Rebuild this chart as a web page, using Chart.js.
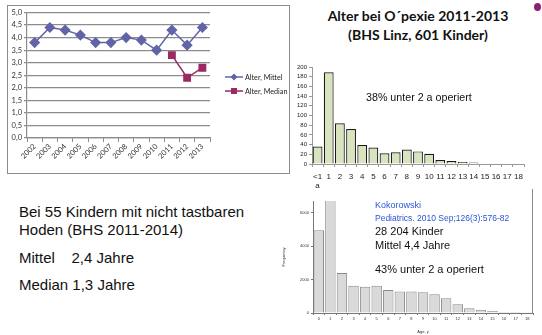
<!DOCTYPE html>
<html>
<head>
<meta charset="utf-8">
<script src="https://cdn.jsdelivr.net/npm/chart.js@4.4.1/dist/chart.umd.min.js"></script>
<style>
  body { margin: 0; width: 542px; height: 335px; background: #fff; position: relative; overflow: hidden; font-family: "Liberation Sans", Arial, sans-serif; }
  canvas { position: absolute; }
  .txt { position: absolute; white-space: nowrap; }
  #box1 { position: absolute; left: 7px; top: 5px; width: 281px; height: 167px; border: 1.5px solid #8c8c8c; }
</style>
</head>
<body>
<div id="box1"></div>
<canvas id="lineChart" width="280" height="166" style="left:9px;top:6px"></canvas>

<div class="txt" style="left:300px;top:6px;width:236px;text-align:center;font:bold 14px Lato, sans-serif;line-height:19px;color:#111">Alter bei O´pexie 2011-2013<br>(BHS Linz, 601 Kinder)</div>
<canvas id="bhsChart" width="235" height="135" style="left:295px;top:60px"></canvas>
<div class="txt" style="left:366px;top:91px;font-size:10.7px;color:#111">38% unter 2 a operiert</div>

<div class="txt" style="left:19px;top:203px;font-size:15px;line-height:18px;color:#111">Bei 55 Kindern mit nicht tastbaren<br>Hoden (BHS 2011-2014)</div>
<div class="txt" style="left:19px;top:249px;font-size:15px;color:#111">Mittel&nbsp;&nbsp;&nbsp; 2,4 Jahre</div>
<div class="txt" style="left:19px;top:276px;font-size:15px;color:#111">Median 1,3 Jahre</div>

<canvas id="koChart" width="258" height="145" style="left:280px;top:190px"></canvas>
<div style="position:absolute;left:532px;top:189px;width:1px;height:125px;background:#888"></div>
<div class="txt" style="left:375px;top:200px;font-size:9px;color:#2b55d6">Kokorowski</div>
<div class="txt" style="left:375px;top:213px;font-size:8.5px;color:#2b55d6">Pediatrics. 2010 Sep;126(3):576-82</div>
<div class="txt" style="left:375px;top:225px;font-size:11px;color:#111">28 204 Kinder</div>
<div class="txt" style="left:375px;top:239px;font-size:11px;color:#111">Mittel 4,4 Jahre</div>
<div class="txt" style="left:375px;top:263px;font-size:11px;color:#111">43% unter 2 a operiert</div>

<div style="position:absolute;left:534px;top:3px;width:7px;height:8px;border-radius:50%;background:#8e1f6e"></div>

<script>
// Linien: Alter bei Orchidopexie pro Jahr
const years = ["2002", "2003", "2004", "2005", "2006", "2007", "2008", "2009", "2010", "2011", "2012", "2013"];
const alterMittel = [3.8, 4.4, 4.3, 4.1, 3.8, 3.8, 4.0, 3.9, 3.5, 4.3, 3.7, 4.4];
const alterMedian = [null, null, null, null, null, null, null, null, null, 3.3, 2.4, 2.8];

// Histogramm BHS Linz 2011-2013
const bhsAges = [["<1", "a"], "1", "2", "3", "4", "5", "6", "7", "8", "9", "10", "11", "12", "13", "14", "15", "16", "17", "18"];
const bhsCounts = [36, 189, 84, 72, 39, 34, 22, 24, 30, 26, 21, 8, 6, 4, 3, 1, 1, 1, 1];

// Histogramm Kokorowski
const koAges = ["0", "1", "2", "3", "4", "5", "6", "7", "8", "9", "10", "11", "12", "13", "14", "15", "16", "17", "18"];
const koFreq = [4950, 7500, 2400, 1630, 1570, 1630, 1370, 1290, 1290, 1240, 1120, 880, 530, 290, 200, 120, 60, 60, 40];
const koTicks = [0, 2000, 4000, 6000];

const grey = "#8c8c8c";

// eigene Legende rechts (Linie + Marker)
const sideLegend = {
  id: "sideLegend",
  afterDraw(chart) {
    const ctx = chart.ctx;
    chart.data.datasets.forEach((ds, i) => {
      const y = 71 + i * 14;
      ctx.save();
      ctx.strokeStyle = ds.borderColor;
      ctx.lineWidth = 1.5;
      ctx.beginPath();
      ctx.moveTo(216, y);
      ctx.lineTo(234, y);
      ctx.stroke();
      ctx.fillStyle = ds.backgroundColor;
      ctx.beginPath();
      if (ds.pointStyle === "rectRot") {
        ctx.moveTo(225, y - 3.5); ctx.lineTo(228.5, y); ctx.lineTo(225, y + 3.5); ctx.lineTo(221.5, y);
      } else {
        ctx.rect(222, y - 3, 6, 6);
      }
      ctx.fill();
      ctx.fillStyle = "#222";
      ctx.font = "7.2px Lato, sans-serif";
      ctx.textBaseline = "middle";
      ctx.fillText(ds.label, 236, y + 0.5);
      ctx.restore();
    });
  }
};

new Chart(document.getElementById("lineChart"), {
  type: "line",
  data: {
    labels: years,
    datasets: [
      { label: "Alter, Mittel", data: alterMittel, borderColor: "#6264a7", backgroundColor: "#6264a7",
        borderWidth: 1.5, pointStyle: "rectRot", pointRadius: 4.5, pointHoverRadius: 4.5 },
      { label: "Alter, Median", data: alterMedian, borderColor: "#9b2a62", backgroundColor: "#9b2a62",
        borderWidth: 1.5, pointStyle: "rect", pointRadius: 4.5, pointHoverRadius: 4.5 }
    ]
  },
  options: {
    responsive: false,
    animation: false,
    layout: { padding: { top: 5, right: 79, left: 0, bottom: 0 } },
    plugins: { legend: { display: false }, tooltip: { enabled: false } },
    scales: {
      x: {
        offset: true,
        grid: { display: true, offset: true, drawOnChartArea: false, color: grey, tickLength: 4 },
        border: { color: grey, width: 1.2 },
        ticks: { autoSkip: false, minRotation: 45, maxRotation: 45, font: { family: "Lato", size: 7.5 }, color: "#333", padding: 0 },
        afterFit: (s) => { s.height = 34; }
      },
      y: {
        min: 0, max: 5,
        ticks: { autoSkip: false, stepSize: 0.5, font: { family: "Lato", size: 7.5 }, color: "#333", padding: 2,
          callback: (v) => v.toFixed(1).replace(".", ",") },
        grid: { color: grey, lineWidth: 1.3, tickLength: 3 },
        border: { color: grey, width: 1.2 },
        afterFit: (s) => { s.width = 18; }
      }
    }
  },
  plugins: [sideLegend]
});

new Chart(document.getElementById("bhsChart"), {
  type: "bar",
  data: {
    labels: bhsAges,
    datasets: [{ data: bhsCounts, backgroundColor: "#d7e4bd", borderColor: "#1a1a1a", borderWidth: 1.2,
      barPercentage: 0.88, categoryPercentage: 1 }]
  },
  options: {
    responsive: false,
    animation: false,
    layout: { padding: { top: 7, right: 6, left: 0, bottom: 0 } },
    plugins: { legend: { display: false }, tooltip: { enabled: false } },
    scales: {
      x: {
        grid: { display: true, offset: true, drawOnChartArea: false, color: "#999", tickLength: 3 },
        border: { color: "#999" },
        ticks: { maxRotation: 0, autoSkip: false, font: { family: "Liberation Sans", size: 8, lineHeight: 1.15 }, color: "#222", padding: 5 },
        afterFit: (s) => { s.height = 31; }
      },
      y: {
        min: 0, max: 200,
        ticks: { autoSkip: false, stepSize: 20, font: { family: "Liberation Sans", size: 6 }, color: "#222", padding: 2 },
        grid: { drawOnChartArea: false, color: "#999", tickLength: 3 },
        border: { color: "#999" },
        afterFit: (s) => { s.width = 17; }
      }
    }
  }
});

new Chart(document.getElementById("koChart"), {
  type: "bar",
  data: {
    labels: koAges,
    datasets: [{ data: koFreq, backgroundColor: "#d9d9d9", borderColor: "#8a8a8a", borderWidth: 1,
      barPercentage: 0.9, categoryPercentage: 1 }]
  },
  options: {
    responsive: false,
    animation: false,
    layout: { padding: { top: 11, right: 5, left: 0, bottom: 0 } },
    plugins: { legend: { display: false }, tooltip: { enabled: false } },
    scales: {
      x: {
        grid: { display: true, drawOnChartArea: false, color: "#777", tickLength: 2 },
        border: { color: "#777" },
        ticks: { maxRotation: 0, autoSkip: false, font: { family: "Liberation Sans", size: 4 }, color: "#333", padding: 1 },
        title: { display: true, text: "Age, y", font: { family: "Liberation Sans", size: 4 }, color: "#333", padding: 1 },
        afterFit: (s) => { s.height = 22; }
      },
      y: {
        min: 0, max: 6700,
        afterBuildTicks: (s) => { s.ticks = koTicks.map((v) => ({ value: v })); },
        ticks: { autoSkip: false, font: { family: "Liberation Sans", size: 4 }, color: "#333", padding: 2,
          callback: (v) => String(v) },
        title: { display: true, text: "Frequency", font: { family: "Liberation Sans", size: 4 }, color: "#333", padding: 1 },
        grid: { drawOnChartArea: false, color: "#777", tickLength: 2 },
        border: { color: "#777" },
        afterFit: (s) => { s.width = 33; }
      }
    }
  }
});
</script>
</body>
</html>
